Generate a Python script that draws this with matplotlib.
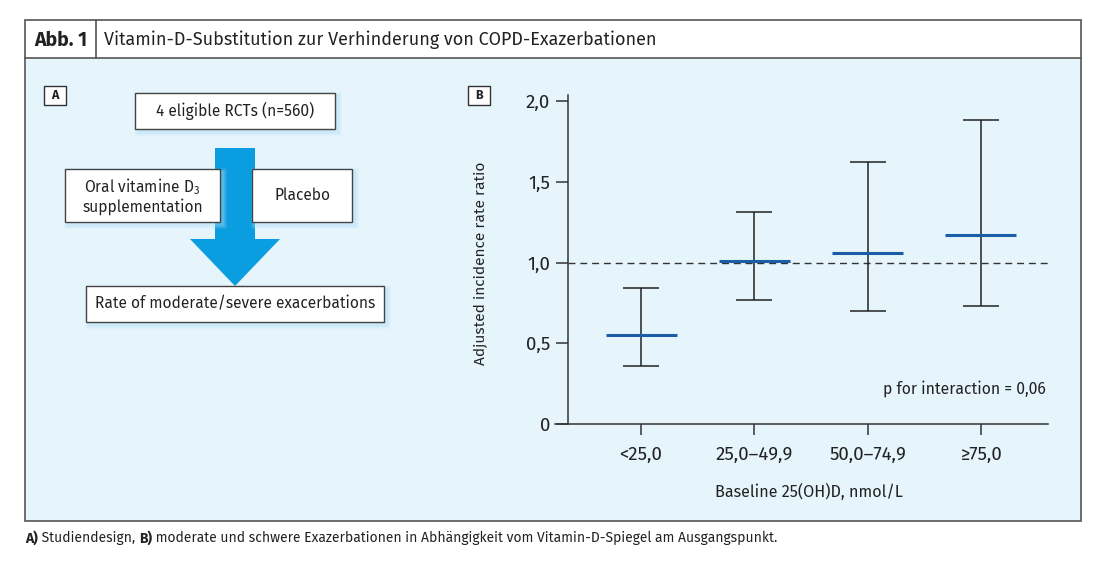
import matplotlib
matplotlib.use('Agg')
import matplotlib.pyplot as plt
from matplotlib.patches import Rectangle, Polygon
from matplotlib import font_manager

# ---------------- data ----------------
categories = ['<25,0', '25,0–49,9', '50,0–74,9', '≥75,0']
estimates = [0.55, 1.01, 1.06, 1.17]
ci_low = [0.36, 0.77, 0.70, 0.73]
ci_high = [0.84, 1.31, 1.62, 1.88]
yticks = [0, 0.5, 1.0, 1.5, 2.0]
ytick_labels = ['0', '0,5', '1,0', '1,5', '2,0']
reference_line = 1.0
p_text = 'p for interaction = 0,06'

# ---------------- fonts ----------------
entries = font_manager.fontManager.ttflist


def has_weights(name):
    ws = [f.weight if isinstance(f.weight, int) else 400 for f in entries if f.name == name]
    ws2 = []
    for f in entries:
        if f.name == name:
            w = f.weight
            if isinstance(w, str):
                w = {'bold': 700, 'normal': 400, 'regular': 400}.get(w, 400)
            ws2.append(w)
    return any(w >= 600 for w in ws2) and any(w == 400 for w in ws2)


fam = []
for cand in ['Fira Sans', 'IBM Plex Sans', 'Liberation Sans']:
    if has_weights(cand):
        fam.append(cand)
        break
fam.append('DejaVu Sans')
plt.rcParams['font.family'] = fam
plt.rcParams['mathtext.default'] = 'regular'

W, H = 1100, 563
fig = plt.figure(figsize=(W / 100, H / 100), dpi=100)
fig.patch.set_facecolor('white')
R = fig.canvas.get_renderer()

ax0 = fig.add_axes([0, 0, 1, 1])
ax0.set_xlim(0, W)
ax0.set_ylim(H, 0)
ax0.axis('off')


def size_for(s, target, weight='normal', base=11.0):
    t = ax0.text(0, -100, s, fontsize=base, fontweight=weight)
    w = t.get_window_extent(R).width
    t.remove()
    return base * target / w


def fit(t, target, vertical=False):
    bb = t.get_window_extent(R)
    cur = bb.height if vertical else bb.width
    t.set_fontsize(t.get_fontsize() * target / cur)
    return t


edge = '#555555'
bg = '#e6f4fc'
txt = '#222222'

# frame / header
ax0.add_patch(Rectangle((25, 58), 1056, 463, fc=bg, ec='none', zorder=0))
ax0.add_patch(Rectangle((25, 20), 1056, 501, fc='none', ec=edge, lw=1.2, zorder=5))
ax0.plot([25, 1081], [58, 58], color=edge, lw=1.2, zorder=5)
ax0.plot([96, 96], [20, 58], color=edge, lw=1.2, zorder=5)
fit(ax0.text(34, 40, 'Abb. 1', fontsize=12, fontweight='bold', va='center', ha='left', color=txt), 53)
fit(ax0.text(104, 40, 'Vitamin-D-Substitution zur Verhinderung von COPD-Exazerbationen',
             fontsize=12, va='center', ha='left', color=txt), 552)

# panel letters
for (x, lab) in [(44, 'A'), (468, 'B')]:
    ax0.add_patch(Rectangle((x, 86), 22, 19, fc='white', ec='#333333', lw=1, zorder=3))
    ax0.text(x + 11, 95.5, lab, fontsize=9, fontweight='bold', ha='center', va='center', color=txt, zorder=4)

# arrow
arrow_pts = [(215, 148), (255, 148), (255, 239), (280, 239), (235, 286), (190, 239), (215, 239)]
ax0.add_patch(Polygon(arrow_pts, closed=True, fc='#0a9ee0', ec='none', zorder=1))


def box(x0, y0, x1, y1, text, fs):
    for k, a in [(8, 0.10), (6, 0.12), (4, 0.15), (2, 0.2)]:
        ax0.add_patch(Rectangle((x0 + 3 - k / 2, y0 + 3 - k / 2), x1 - x0 + k, y1 - y0 + k,
                                fc='#a9dcf7', ec='none', alpha=a, zorder=1.5))
    ax0.add_patch(Rectangle((x0, y0), x1 - x0, y1 - y0, fc='white', ec='#444444', lw=1, zorder=2))
    return ax0.text((x0 + x1) / 2, (y0 + y1) / 2, text, fontsize=fs, ha='center', va='center',
                    color=txt, zorder=3, linespacing=1.1)


fs_box = (size_for('4 eligible RCTs (n=560)', 164) + size_for('Rate of moderate/severe exacerbations', 279)
          + size_for('supplementation', 119) + size_for('Placebo', 55)) / 4
box(135, 93, 335, 129, '4 eligible RCTs (n=560)', fs_box)
box(65, 169, 220, 222, 'Oral vitamine D$_3$\nsupplementation', fs_box)
box(252, 169, 352, 222, 'Placebo', fs_box)
box(86, 286, 384, 322, 'Rate of moderate/severe exacerbations', fs_box)

# ---------------- panel B ----------------
x_left_px, x_right_px = 555, 1048
y_bot_px, y_top_px = 424, 95
tick0_px, step_px = 641, 113.3
yaxis_px = 568
ymax = 2.0 * (y_bot_px - y_top_px) / (424 - 101)

ax = fig.add_axes([x_left_px / W, (H - y_bot_px) / H,
                   (x_right_px - x_left_px) / W, (y_bot_px - y_top_px) / H])
ax.set_facecolor('none')
xl = (x_left_px - tick0_px) / step_px
xr = (x_right_px - tick0_px) / step_px
xspine = (yaxis_px - tick0_px) / step_px
ax.set_xlim(xl, xr)
ax.set_ylim(0, ymax)
for s in ['top', 'right']:
    ax.spines[s].set_visible(False)
ax.spines['left'].set_position(('data', xspine))
for s in ['left', 'bottom']:
    ax.spines[s].set_color('#333333')
    ax.spines[s].set_linewidth(1.1)

fs_tick = size_for('25,0–49,9', 77)
xs = list(range(len(categories)))
ax.set_xticks(xs)
ax.set_xticklabels(categories, fontsize=fs_tick, color=txt)
ax.set_yticks(yticks)
ax.set_yticklabels(ytick_labels, fontsize=fs_tick, color=txt)
ax.tick_params(axis='x', direction='out', length=8, width=1.1, color='#333333', pad=8)
ax.tick_params(axis='y', direction='out', length=9, width=1.1, color='#333333', pad=4)

ax.plot([xspine, xr], [reference_line, reference_line], color='#333333', lw=1,
        ls=(0, (5, 3.5)), zorder=2)

cap = 18 / step_px
half = 35.5 / step_px
ax.vlines(xs, ci_low, ci_high, color='#222222', lw=1.1, zorder=3)
ax.hlines(ci_low, [x - cap for x in xs], [x + cap for x in xs], color='#222222', lw=1.1, zorder=3)
ax.hlines(ci_high, [x - cap for x in xs], [x + cap for x in xs], color='#222222', lw=1.1, zorder=3)
ax.hlines(estimates, [x - half for x in xs], [x + half for x in xs], color='#1b5ea8', lw=2.2, zorder=4)

fit(ax0.text(481, 263, 'Adjusted incidence rate ratio', rotation=90, fontsize=11,
             ha='center', va='center', color=txt), 202, vertical=True)
fit(ax0.text(809, 492, 'Baseline 25(OH)D, nmol/L', fontsize=11, ha='center', va='center', color=txt), 188)
fit(ax0.text(1046, 389, p_text, fontsize=11, ha='right', va='center', color=txt), 162)

# ---------------- caption ----------------
parts = [('A)', 'bold'), (' Studiendesign, ', 'normal'), ('B)', 'bold'),
         (' moderate und schwere Exazerbationen in Abhängigkeit vom Vitamin-D-Spiegel am Ausgangspunkt.', 'normal')]
total = 0
for s, w in parts:
    t = ax0.text(0, -100, s, fontsize=9, fontweight=w)
    total += t.get_window_extent(R).width
    t.remove()
fs_cap = 9 * 754 / total
x = 25
for s, w in parts:
    t = ax0.text(x, 538, s, fontsize=fs_cap, fontweight=w, ha='left', va='center', color=txt)
    x += t.get_window_extent(renderer=R).width

fig.savefig('out.png', dpi=100, facecolor='white')
